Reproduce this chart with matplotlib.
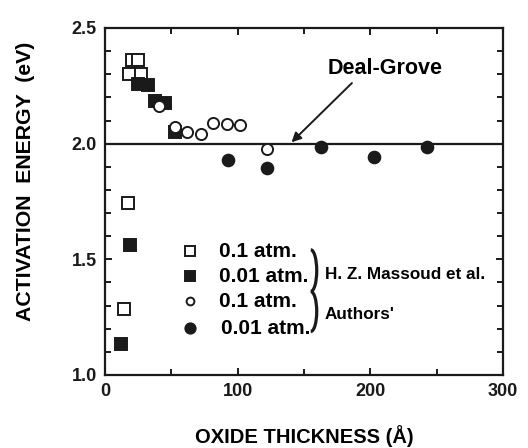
import matplotlib
matplotlib.use("Agg")
import matplotlib.pyplot as plt
from matplotlib.ticker import MultipleLocator, FormatStrFormatter
from matplotlib.patches import Arc

plt.rcParams['font.family'] = ['Liberation Sans', 'DejaVu Sans']
plt.rcParams['font.weight'] = 'bold'

# Data (x: oxide thickness in Angstrom, y: activation energy in eV)
massoud_01_x = [18, 20, 25, 27, 17, 14]
massoud_01_y = [2.30, 2.36, 2.36, 2.30, 1.745, 1.285]
massoud_001_x = [25, 32, 38, 45, 53, 19, 12]
massoud_001_y = [2.26, 2.255, 2.185, 2.175, 2.05, 1.563, 1.135]
authors_01_x = [41, 53, 61.5, 72, 81.5, 92, 101.5, 122]
authors_01_y = [2.163, 2.071, 2.052, 2.042, 2.088, 2.084, 2.080, 1.979]
authors_001_x = [92.5, 122, 162.5, 203, 242.5]
authors_001_y = [1.930, 1.894, 1.987, 1.944, 1.987]
deal_grove = 2.0

legend_labels = ['0.1 atm.', '0.01 atm.', '0.1 atm.', '0.01 atm.']
group_labels = ['H. Z. Massoud et al.', "Authors'"]

INK = '#1a1a1a'
fig = plt.figure(figsize=(5.28, 4.48), dpi=100)
ax = fig.add_axes([0.199, 0.163, 0.754, 0.7745])

mew = 1.4
ax.axhline(deal_grove, color=INK, lw=1.6, zorder=1)
ax.plot(massoud_01_x, massoud_01_y, 's', ms=8.6, mfc='white', mec=INK, mew=mew, ls='none', zorder=3)
ax.plot(massoud_001_x, massoud_001_y, 's', ms=8.6, mfc=INK, mec=INK, mew=mew, ls='none', zorder=3)
ax.plot(authors_01_x, authors_01_y, 'o', ms=8.0, mfc='white', mec=INK, mew=mew, ls='none', zorder=4)
ax.plot(authors_001_x, authors_001_y, 'o', ms=8.4, mfc=INK, mec=INK, mew=mew, ls='none', zorder=4)

ax.set_xlim(0, 300)
ax.set_ylim(1.0, 2.5)
ax.xaxis.set_major_locator(MultipleLocator(100))
ax.xaxis.set_minor_locator(MultipleLocator(50))
ax.yaxis.set_major_locator(MultipleLocator(0.5))
ax.yaxis.set_minor_locator(MultipleLocator(0.1))
ax.yaxis.set_major_formatter(FormatStrFormatter('%.1f'))
ax.tick_params(which='both', direction='in', top=True, right=True, width=1.4, colors=INK)
ax.tick_params(which='major', length=5, labelsize=13, pad=6)
ax.tick_params(which='minor', length=4)
for lab in ax.get_xticklabels() + ax.get_yticklabels():
    lab.set_fontweight('bold')
for s in ax.spines.values():
    s.set_linewidth(1.6)
    s.set_color(INK)

ax.set_xlabel('OXIDE THICKNESS (Å)', fontsize=14.5, fontweight='bold', labelpad=18)
ax.set_ylabel('ACTIVATION  ENERGY  (eV)', fontsize=15.3, fontweight='bold')
ax.yaxis.set_label_coords(-0.175, 0.559)

# Deal-Grove annotation
ax.annotate('', xy=(140.5, 2.006), xytext=(186, 2.262),
            arrowprops=dict(arrowstyle='-|>', color=INK, lw=1.4,
                            mutation_scale=14, shrinkA=0, shrinkB=0))
ax.text(167.5, 2.323, 'Deal-Grove', fontsize=15.5, fontweight='bold', ha='left', va='center')

# Legend drawn by hand
leg_x = 64
leg_y = [1.534, 1.426, 1.318, 1.203]
styles = [dict(marker='s', ms=7.6, mfc='white'),
          dict(marker='s', ms=7.6, mfc=INK),
          dict(marker='o', ms=5.6, mfc='white'),
          dict(marker='o', ms=7.4, mfc=INK)]
text_x = [85.5, 85.5, 85.5, 87]
for y, st, lab, tx in zip(leg_y, styles, legend_labels, text_x):
    ax.plot([leg_x], [y], ls='none', mec=INK, mew=mew, **st)
    ax.text(tx, y, lab, fontsize=15, fontweight='bold', va='center', ha='left')

# group brackets
for cy, h in [(1.451, 0.18), (1.2745, 0.173)]:
    ax.add_patch(Arc((155.0, cy), 9, h, theta1=-90, theta2=90, color=INK, lw=2.3))
ax.text(165.5, 1.433, group_labels[0], fontsize=12.3, fontweight='bold', va='center', ha='left')
ax.text(165.5, 1.263, group_labels[1], fontsize=12.3, fontweight='bold', va='center', ha='left')

fig.savefig('out.png', dpi=100)
